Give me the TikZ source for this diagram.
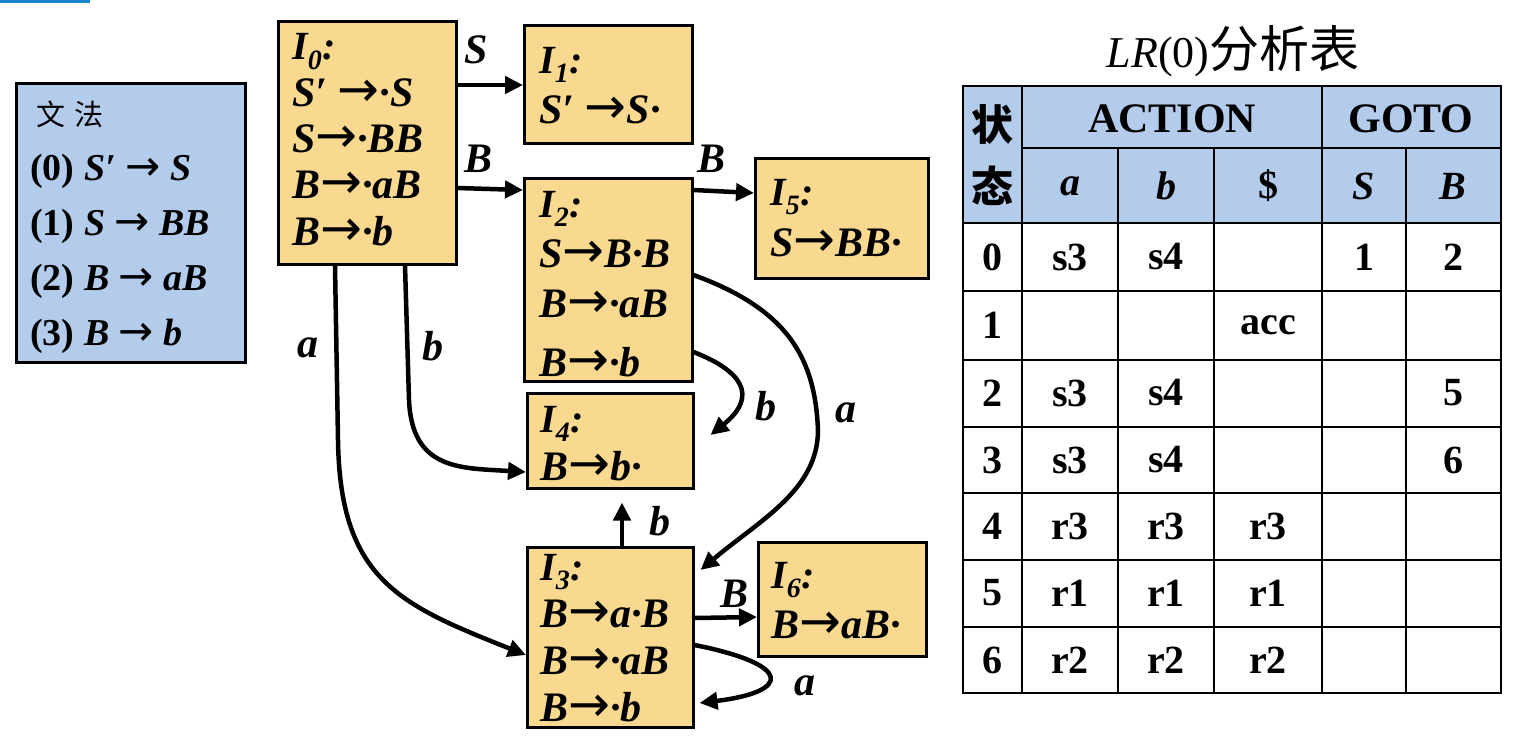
\documentclass[tikz,border=0pt]{standalone}
\usepackage{fontspec}
\newfontfamily\tms{Liberation Serif}
\newfontfamily\cjk{Noto Sans CJK SC}
\newfontfamily\arr{DejaVu Sans}
\newcommand{\myto}{{\arr\fontsize{50}{50}\selectfont\upshape\mdseries →}}
\newcommand{\mytog}{{\arr\fontsize{42}{42}\selectfont\upshape\mdseries →}}
\usetikzlibrary{arrows.meta}
\definecolor{boxblue}{RGB}{180,204,236}
\definecolor{boxorange}{RGB}{249,217,143}
\definecolor{topblue}{RGB}{26,134,208}
\tikzset{
 statebox/.style={draw=black, line width=2.5pt, fill=boxorange, anchor=north west, inner sep=0},
 gbox/.style={draw=black, line width=2.5pt, fill=boxblue, anchor=north west, inner sep=0},
 item/.style={anchor=base west, inner sep=0, font=\fontsize{42}{44}\selectfont\tms\bfseries\itshape},
 ihead/.style={anchor=base west, inner sep=0, font=\fontsize{40}{42}\selectfont\tms\bfseries\itshape},
 gline/.style={anchor=base west, inner sep=0, font=\fontsize{38}{44}\selectfont\tms\bfseries},
 edge/.style={line width=4.5pt, -{Triangle[length=18pt,width=17pt]}},
 elabel/.style={inner sep=0, anchor=base, font=\fontsize{42}{44}\selectfont\tms\bfseries\itshape},
 cell/.style={inner sep=0, anchor=center, font=\fontsize{40}{44}\selectfont\tms\bfseries},
 tline/.style={line width=2pt, draw=black},
}
\begin{document}
\begin{tikzpicture}[x=1pt,y=-1pt]
\useasboundingbox (0,0) rectangle (1516,740);
\fill[topblue] (0,0) rectangle (90,2.5);

% grammar box
\node[gbox, minimum width=229pt, minimum height=279pt] (G) at (15,82) {};
\node[inner sep=0, font=\fontsize{29}{30}\selectfont\cjk] (Gt) at (70,114) {文\hspace{10pt}法};
\node[gline] (G0) at (30,180) {(0) \textit{S′ \mytog\ S}};
\node[gline] (G1) at (30,235) {(1) \textit{S \mytog\ BB}};
\node[gline] (G2) at (30,290) {(2) \textit{B \mytog\ aB}};
\node[gline] (G3) at (30,345) {(3) \textit{B \mytog\ b}};

% state boxes
\node[statebox, minimum width=178pt, minimum height=243pt] (I0) at (277,20) {};
\node[statebox, minimum width=168pt, minimum height=118pt] (I1) at (523,24) {};
\node[statebox, minimum width=168pt, minimum height=203pt] (I2) at (523,177) {};
\node[statebox, minimum width=173pt, minimum height=120pt] (I5) at (754,157) {};
\node[statebox, minimum width=166pt, minimum height=95pt] (I4) at (526,392) {};
\node[statebox, minimum width=166pt, minimum height=180pt] (I3) at (526,546) {};
\node[statebox, minimum width=168pt, minimum height=114pt] (I6) at (757,541) {};

% items
\node[ihead] (I0a) at (292,59) {I\textsubscript{0}:};
\node[item] (I0b) at (292,106) {S′ \myto·S};
\node[item] (I0c) at (292,152) {S\myto·BB};
\node[item] (I0d) at (292,198) {B\myto·aB};
\node[item] (I0e) at (292,245) {B\myto·b};

\node[ihead] (I1a) at (539,73) {I\textsubscript{1}:};
\node[item] (I1b) at (539,123) {S′ \myto S·};

\node[ihead] (I2a) at (539,217) {I\textsubscript{2}:};
\node[item] (I2b) at (539,267) {S\myto B·B};
\node[item] (I2c) at (539,317) {B\myto·aB};
\node[item] (I2d) at (539,376) {B\myto·b};

\node[ihead] (I5a) at (770,205) {I\textsubscript{5}:};
\node[item] (I5b) at (770,256) {S\myto BB·};

\node[ihead] (I4a) at (540,432) {I\textsubscript{4}:};
\node[item] (I4b) at (540,480) {B\myto b·};

\node[ihead] (I3a) at (540,580) {I\textsubscript{3}:};
\node[item] (I3b) at (540,627) {B\myto a·B};
\node[item] (I3c) at (540,674) {B\myto·aB};
\node[item] (I3d) at (540,721) {B\myto·b};

\node[ihead] (I6a) at (771,588) {I\textsubscript{6}:};
\node[item] (I6b) at (771,638) {B\myto aB·};

% edges
\draw[edge] ([yshift=-65pt]I0.north east) -- ([yshift=-61pt]I1.north west);
\node[elabel] (lS) at (476,63) {S};
\draw[edge] ([yshift=-168pt]I0.north east) -- ([yshift=-13pt]I2.north west);
\node[elabel] (lB1) at (479,172) {B};
\draw[edge] ([yshift=-13pt]I2.north east) -- ([yshift=-36pt]I5.north west);
\node[elabel] (lB2) at (711,172) {B};

\coordinate (a0s) at ([xshift=58pt]I0.south west);
\draw[edge] (a0s) -- (338,440) .. controls (340,580) and (400,605) .. ([yshift=-109pt]I3.north west);
\node[elabel] (la1) at (308,357) {a};

\coordinate (b0s) at ([xshift=128pt]I0.south west);
\draw[edge] (b0s) -- (409,400) .. controls (412,470) and (460,468) .. ([yshift=-80pt]I4.north west);
\node[elabel] (lb1) at (433,360) {b};

\draw[edge] ([yshift=-98pt]I2.north east) .. controls (790,310) and (815,360) .. (818,430)
  .. controls (818,490) and (760,520) .. ([xshift=6pt,yshift=-24pt]I3.north east);
\node[elabel] (la2) at (846,422) {a};

\draw[edge] ([yshift=-175pt]I2.north east) .. controls (740,370) and (760,395) .. ([xshift=16pt,yshift=-43pt]I4.north east);
\node[elabel] (lb2) at (766,420) {b};

\draw[edge] ([xshift=96pt]I3.north west) -- ([xshift=96pt,yshift=-13pt]I4.south west);
\node[elabel] (lb3) at (660,535) {b};

\draw[edge] ([yshift=-72pt]I3.north east) -- ([yshift=-76pt]I6.north west);
\node[elabel] (lB3) at (734,607) {B};

\draw[edge] ([yshift=-99pt]I3.north east) .. controls (795,665) and (790,692) .. ([xshift=5pt,yshift=-157pt]I3.north east);
\node[elabel] (la3) at (805,695) {a};

% table
\node[inner sep=0] (title) at (1233,51) {{\fontsize{44}{48}\selectfont\tms\itshape LR}{\fontsize{44}{48}\selectfont\tms (0)}{\fontsize{50}{54}\selectfont\cjk 分析表}};
\fill[boxblue] (963,86) rectangle (1501,223);
\draw[tline] (1022,148) -- (1501,148);
\foreach \y in {223,291,360,427,493,560,627} \draw[tline] (963,\y) -- (1501,\y);
\draw[tline] (1022,86) -- (1022,693);
\draw[tline] (1322,86) -- (1322,693);
\foreach \x in {1118,1214,1406} \draw[tline] (\x,148) -- (\x,693);
\draw[line width=2.5pt] (963,86) rectangle (1501,693);

\node[cell, font=\fontsize{42}{44}\selectfont\cjk\bfseries] (h1) at (992,124) {状};
\node[cell, font=\fontsize{42}{44}\selectfont\cjk\bfseries] (h2) at (992,186) {态};
\node[cell, font=\fontsize{42}{44}\selectfont\tms\bfseries] (hA) at (1172,119) {ACTION};
\node[cell, font=\fontsize{42}{44}\selectfont\tms\bfseries] (hG) at (1411,119) {GOTO};
\node[cell] (ha) at (1070,186) {\itshape a};
\node[cell] (hb) at (1166,186) {\itshape b};
\node[cell] (hd) at (1268,186) {\$};
\node[cell] (hS) at (1364,186) {\itshape S};
\node[cell] (hB) at (1453,186) {\itshape B};

\foreach \r/\yy/\ca/\cb/\cd/\cs/\cB in {0/257/s3/s4//1/2, 1/325/{}/{}/acc/{}/{}, 2/393/s3/s4/{}/{}/5, 3/460/s3/s4/{}/{}/6, 4/526/r3/r3/r3/{}/{}, 5/593/r1/r1/r1/{}/{}, 6/660/r2/r2/r2/{}/{}}{
  \node[cell] (r\r c0) at (992,\yy) {\r};
  \node[cell] (r\r c1) at (1070,\yy) {\ca};
  \node[cell] (r\r c2) at (1166,\yy) {\cb};
  \node[cell] (r\r c3) at (1268,\yy) {\cd};
  \node[cell] (r\r c4) at (1364,\yy) {\cs};
  \node[cell] (r\r c5) at (1453,\yy) {\cB};
}
\end{tikzpicture}
\end{document}
